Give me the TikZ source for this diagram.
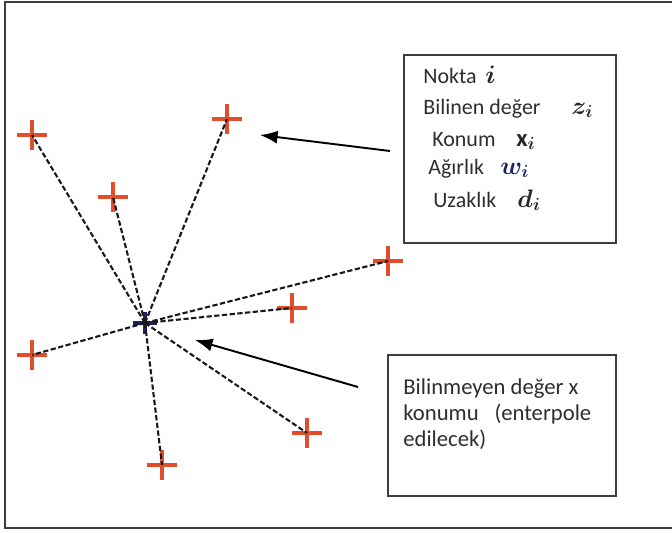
\documentclass[tikz,border=0pt]{standalone}
\usepackage{fontspec}
\usepackage{amsmath}
\setmainfont{Carlito}
\usetikzlibrary{arrows.meta}

\definecolor{ptred}{RGB}{226,78,44}
\definecolor{ctblue}{RGB}{28,36,96}
\definecolor{frame}{RGB}{60,60,66}

\begin{document}
\begin{tikzpicture}[>={Latex[length=10pt,width=7.5pt]}]
				\tikzstyle{pt} = [minimum size=0.6cm, inner sep=0pt]
				\tikzstyle{ctr} = [minimum width=0.46cm, minimum height=0.42cm, inner sep=0pt]
				\tikzstyle{crs} = [draw=ptred, line width=1.8pt]
				\tikzstyle{dline} = [draw=black!90, line width=1.2pt, dash pattern=on 3pt off 1.4pt]
				\tikzstyle{box} = [draw=frame, line width=1.1pt, fill=white]
				\tikzstyle{lbl} = [anchor=mid west, inner sep=0pt, text=black!82, font=\fontsize{12.5}{14}\selectfont]
				\tikzstyle{sym} = [anchor=mid west, inner sep=0pt, text=black!85, font=\fontsize{14}{16}\selectfont]
				
				\useasboundingbox (0,0) rectangle (13.44,10.64);
				\draw[draw=frame, line width=1.1pt] (13.6,10.6) -- (0.1,10.6) -- (0.1,0.08) -- (13.6,0.08);
				
				% bilinen noktalar
				\node[pt] 	at (0.64, 7.94) 	(p1) 	{};
				\node[pt] 	at (4.54, 8.26) 	(p2) 	{};
				\node[pt] 	at (2.26, 6.70) 	(p3) 	{};
				\node[pt] 	at (7.76, 5.42) 	(p4) 	{};
				\node[pt] 	at (5.84, 4.48) 	(p5) 	{};
				\node[pt] 	at (0.64, 3.54) 	(p6) 	{};
				\node[pt] 	at (6.14, 1.98) 	(p7) 	{};
				\node[pt] 	at (3.24, 1.34) 	(p8) 	{};
				\node[ctr] 	at (2.90, 4.18) 	(x0) 	{};
				
				\foreach \p in {p1,p2,p3,p4,p5,p6,p7,p8}
				\draw[crs] (\p.north) -- (\p.south) (\p.west) -- (\p.east);
				\draw[crs, draw=ctblue, line width=2pt] (x0.north) -- (x0.south) (x0.west) -- (x0.east);
				
				\path[dline]
				(x0.center)	edge	(p1.center)
				(x0.center)	edge	(p2.center)
				(x0.center)	edge	(p3.center)
				(x0.center)	edge	(p4.center)
				(x0.center)	edge	(p5.center)
				(x0.center)	edge	(p6.center)
				(x0.center)	edge	(p7.center)
				(x0.center)	edge	(p8.center);
				
				% kutular
				\draw[box] (8.08, 5.78) rectangle (12.32, 9.54);
				\draw[box] (7.76, 0.72) rectangle (12.32, 3.54);
				
				\node[lbl]	at (8.46, 9.06)	(nokta)	{Nokta};
				\node[sym]	at (9.70, 9.06)	(si)	{$\boldsymbol{i}$};
				\node[lbl]	at (8.46, 8.44)	(bilinen)	{Bilinen değer};
				\node[sym]	at (11.42, 8.44)	(sz)	{$\boldsymbol{z_i}$};
				\node[lbl]	at (8.64, 7.80)	(konum)	{Konum};
				\node[sym]	at (10.32, 7.80)	(sx)	{$\mathbf{x}_{\boldsymbol{i}}$};
				\node[lbl]	at (8.56, 7.24)	(agirlik)	{Ağırlık};
				\node[sym, text=ctblue]	at (10.00, 7.24)	(sw)	{$\boldsymbol{w_i}$};
				\node[lbl]	at (8.66, 6.58)	(uzaklik)	{Uzaklık};
				\node[sym]	at (10.34, 6.58)	(sd)	{$\boldsymbol{d_i}$};
				
				\node[lbl, anchor=north west, align=left, font=\fontsize{12.9}{14.8}\selectfont]	at (8.06, 3.08)	(bilinmeyen)
					{Bilinmeyen değer x\\konumu\hspace{0.7em}(enterpole\\edilecek)};
				
				% oklar
				\coordinate (a1) at (7.80, 7.62);
				\coordinate (t1) at (5.20, 7.94);
				\coordinate (a2) at (7.16, 2.90);
				\coordinate (t2) at (3.90, 3.84);
				\draw[->, line width=1.1pt] (a1) -- (t1);
				\draw[->, line width=1.1pt] (a2) -- (t2);
\end{tikzpicture}
\end{document}
